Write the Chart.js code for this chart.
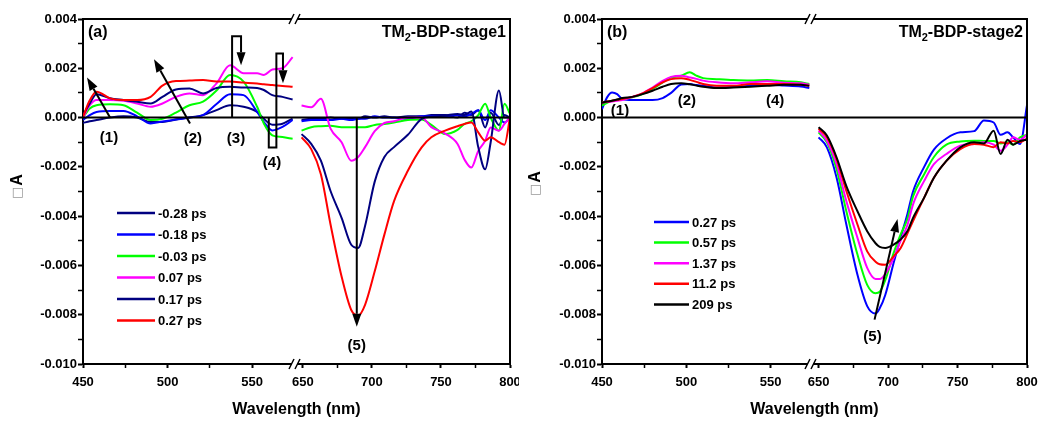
<!DOCTYPE html>
<html>
<head>
<meta charset="utf-8">
<script src="https://cdn.jsdelivr.net/npm/chart.js@4.4.1/dist/chart.umd.min.js"></script>
<style>
  html, body { margin: 0; padding: 0; background: #fff; }
  #wrap { position: relative; width: 1039px; height: 421px; }
  canvas { position: absolute; top: 0; }
  #chartA { left: 0; }
  #chartB { left: 519px; }
</style>
</head>
<body>
<div id="wrap">
  <canvas id="chartA" width="519" height="421"></canvas>
  <canvas id="chartB" width="520" height="421"></canvas>
</div>
<script>
'use strict';

// wavelengths (nm), one array per side of the axis break
const wlA1 = [450, 454, 458, 466, 474, 482, 490, 497, 505, 513, 521, 529, 537, 545, 553, 557, 562, 568, 574];
const wlA2 = [649, 656, 663, 670, 678, 685, 690, 695, 702, 709, 716, 726, 736, 743, 753, 762, 767, 772, 777, 782, 786, 792, 796, 800];
const wlB1 = [450, 453, 456, 459, 462, 468, 474, 480, 486, 491, 497, 502, 506, 510, 518, 528, 538, 548, 558, 568, 573];
const wlB2 = [650, 656, 663, 670, 678, 685, 691, 694, 698, 704, 709, 714, 718, 726, 733, 742, 752, 762, 769, 776, 781, 786, 790, 795, 800];

// stage 1, delta A in units of 0.001
const a1_m028 = [-0.22, -0.15, -0.1, 0, 0.05, 0, -0.18, -0.18, -0.08, 0, 0.1, 0.3, 0.5, 0.44, 0.23, -0.05, -0.29, -0.25, -0.04];
const a1_m018 = [-0.1, 0.1, 0.23, 0.27, 0.27, 0.05, -0.24, -0.16, -0.08, 0, 0.1, 0.55, 0.95, 0.91, 0.23, -0.18, -0.52, -0.38, -0.1];
const a1_m003 = [0, 0.37, 0.5, 0.54, 0.5, 0.2, -0.1, -0.05, 0.2, 0.5, 0.65, 1.1, 1.73, 1.46, 0.44, -0.24, -0.72, -0.79, -0.86];
const a1_p007 = [0, 0.5, 0.71, 0.71, 0.68, 0.57, 0.44, 0.57, 0.84, 0.98, 0.91, 1.39, 2.12, 1.8, 1.8, 1.73, 1.95, 2.0, 2.45];
const a1_p017 = [0.1, 0.57, 0.95, 0.78, 0.71, 0.64, 0.57, 0.84, 1.14, 1.18, 0.98, 1.2, 1.25, 1.22, 1.2, 1.12, 0.91, 0.84, 0.73];
const a1_p027 = [0.03, 0.7, 1.05, 0.78, 0.71, 0.71, 0.84, 1.3, 1.48, 1.5, 1.52, 1.46, 1.46, 1.42, 1.38, 1.35, 1.32, 1.28, 1.25];

const a2_m028 = [-0.1, -0.05, -0.05, 0, -0.05, -0.05, -0.05, 0.05, 0, 0.05, 0, 0.05, 0.05, 0.1, 0.1, 0, 0.2, 0.1, 0.3, -0.4, 0.2, -0.3, 0.1, 0];
const a2_m018 = [-0.15, -0.1, -0.1, -0.1, -0.05, -0.1, -0.05, -0.05, 0.05, 0, 0, -0.05, 0.05, 0.05, 0.05, 0.1, 0.05, 0.15, 0.3, -0.1, 0.3, 0, -0.2, 0];
const a2_m003 = [-0.53, -0.39, -0.35, -0.33, -0.39, -0.39, -0.39, -0.39, -0.3, -0.26, -0.2, -0.1, -0.08, -0.3, -0.67, -0.5, -0.26, -0.15, 0.1, 0.56, 0, -0.53, 0.56, 0.15];
const a2_p007 = [0.49, 0.42, 0.76, -0.45, -1.0, -1.75, -1.6, -1.2, -0.55, -0.22, -0.15, 0, 0, -0.39, -0.65, -1.07, -1.7, -2.03, -1.35, -0.94, -0.4, -0.53, -0.26, 0];
const a2_p017 = [-0.67, -1.07, -1.75, -2.98, -4.07, -5.16, -5.29, -4.4, -2.6, -1.6, -1.2, -0.7, -0.05, 0.03, 0.08, 0.15, 0.1, 0.25, -1.2, -2.1, -1.0, 1.1, 0, 0];
const a2_p027 = [-0.8, -1.28, -2.3, -4.34, -6.45, -7.81, -8.04, -7.6, -6.24, -4.75, -3.39, -2.16, -1.21, -0.8, -0.53, -0.35, -0.26, -0.2, -0.6, -0.94, -0.8, -1.0, -1.1, 0];

// stage 2
const b1_027 = [0.34, 0.82, 1.02, 0.95, 0.75, 0.71, 0.71, 0.71, 0.79, 1.0, 1.34, 1.36, 1.32, 1.29, 1.22, 1.24, 1.29, 1.33, 1.3, 1.26, 1.2];
const b1_057 = [0.48, 0.6, 0.68, 0.72, 0.75, 0.82, 0.95, 1.16, 1.43, 1.63, 1.7, 1.84, 1.7, 1.6, 1.56, 1.52, 1.5, 1.52, 1.47, 1.43, 1.36];
const b1_137 = [0.61, 0.63, 0.65, 0.68, 0.71, 0.84, 0.98, 1.22, 1.49, 1.65, 1.7, 1.63, 1.57, 1.5, 1.43, 1.39, 1.43, 1.47, 1.41, 1.39, 1.33];
const b1_112 = [0.61, 0.65, 0.68, 0.72, 0.75, 0.84, 0.98, 1.19, 1.43, 1.56, 1.6, 1.53, 1.45, 1.36, 1.29, 1.29, 1.36, 1.36, 1.36, 1.33, 1.29];
const b1_209 = [0.61, 0.65, 0.68, 0.73, 0.79, 0.84, 0.95, 1.09, 1.25, 1.36, 1.39, 1.35, 1.3, 1.25, 1.2, 1.22, 1.25, 1.29, 1.33, 1.33, 1.29];

const b2_027 = [-0.8, -1.21, -2.44, -4.34, -6.38, -7.65, -7.95, -7.74, -7.2, -5.9, -4.88, -3.9, -3.0, -2.0, -1.3, -0.85, -0.6, -0.55, -0.12, -0.2, -0.7, -0.6, -0.8, -1.07, 0.5];
const b2_057 = [-0.6, -1.0, -2.1, -3.8, -5.56, -6.79, -7.13, -7.07, -6.6, -5.5, -4.75, -4.1, -3.2, -2.3, -1.6, -1.1, -0.97, -0.94, -0.95, -0.95, -1.05, -1.0, -1.1, -0.8, -0.7];
const b2_137 = [-0.53, -0.94, -1.89, -3.39, -4.88, -6.1, -6.55, -6.55, -6.35, -5.7, -5.0, -4.35, -3.52, -2.57, -1.89, -1.48, -1.14, -1.07, -1.0, -1.1, -1.35, -1.1, -0.8, -0.9, -0.7];
const b2_112 = [-0.46, -0.8, -1.69, -2.98, -4.34, -5.43, -5.85, -5.95, -5.97, -5.63, -5.3, -4.7, -4.2, -3.25, -2.44, -1.76, -1.28, -1.07, -1.1, -1.2, -1.0, -1.05, -0.95, -1.0, -0.85];
const b2_209 = [-0.39, -0.73, -1.62, -2.78, -3.8, -4.61, -5.1, -5.25, -5.29, -5.16, -4.95, -4.6, -4.07, -3.25, -2.44, -1.76, -1.21, -1.0, -1.05, -0.53, -1.48, -0.9, -1.1, -0.95, -0.9];

const stage1Labels = ['-0.28 ps', '-0.18 ps', '-0.03 ps', '0.07 ps', '0.17 ps', '0.27 ps'];
const stage1Colors = ['#000080', '#0000ff', '#00ff00', '#ff00ff', '#000080', '#ff0000'];
const stage2Labels = ['0.27 ps', '0.57 ps', '1.37 ps', '11.2 ps', '209 ps'];
const stage2Colors = ['#0000ff', '#00ff00', '#ff00ff', '#ff0000', '#000000'];

const yTicks = [-0.010, -0.009, -0.008, -0.007, -0.006, -0.005, -0.004, -0.003, -0.002, -0.001, 0, 0.001, 0.002, 0.003, 0.004];
const xTicksVis = [450, 475, 500, 525, 550];
const xTicksNir = [650, 675, 700, 725, 750, 775, 800];

const fontFamily = 'Arial, "Liberation Sans", sans-serif';
const boldFont = (size) => `bold ${size}px ${fontFamily}`;

let drawArrow = function (ctx, pts, head) {
    let n = pts.length;
    let [x1, y1] = pts[n - 1];
    let [x0, y0] = pts[n - 2];
    let len = Math.hypot(x1 - x0, y1 - y0);
    let ux = (x1 - x0) / len, uy = (y1 - y0) / len;
    let hl = head ? 13 : 0, hw = 4.5;
    ctx.beginPath();
    ctx.moveTo(pts[0][0], pts[0][1]);
    for (let i = 1; i < n - 1; i++) ctx.lineTo(pts[i][0], pts[i][1]);
    ctx.lineTo(x1 - ux * hl, y1 - uy * hl);
    ctx.stroke();
    if (!head) return;
    ctx.beginPath();
    ctx.moveTo(x1, y1);
    ctx.lineTo(x1 - ux * hl - uy * hw, y1 - uy * hl + ux * hw);
    ctx.lineTo(x1 - ux * hl + uy * hw, y1 - uy * hl - ux * hw);
    ctx.closePath();
    ctx.fill();
};

// frame, zero line, axis break, arrows, legend and titles
const panelDecor = {
    id: 'panelDecor',
    afterDatasetsDraw(chart, args, o) {
        const ctx = chart.ctx;
        const area = chart.chartArea;
        const yScale = chart.scales.y;
        const zeroY = yScale.getPixelForValue(0);
        const bx = chart.scales.xL.right;
        const pt = (xs, wl, v) => [chart.scales[xs].getPixelForValue(wl), yScale.getPixelForValue(v / 1000)];

        ctx.save();
        ctx.strokeStyle = '#000';
        ctx.fillStyle = '#000';
        ctx.lineWidth = 2;

        ctx.beginPath();
        ctx.moveTo(area.left, zeroY);
        ctx.lineTo(area.right, zeroY);
        ctx.moveTo(area.left - 1, area.top);
        ctx.lineTo(area.right, area.top);
        ctx.lineTo(area.right, area.bottom + 1);
        ctx.stroke();

        [area.top, area.bottom].forEach(yy => {
            ctx.fillStyle = '#fff';
            ctx.fillRect(bx - 5, yy - 2, 5, 4);
            ctx.beginPath();
            ctx.lineWidth = 1.5;
            ctx.moveTo(bx - 8, yy + 5);
            ctx.lineTo(bx - 3, yy - 5);
            ctx.moveTo(bx - 2, yy + 5);
            ctx.lineTo(bx + 3, yy - 5);
            ctx.stroke();
        });

        ctx.fillStyle = '#000';
        ctx.lineWidth = 2;
        o.arrows.forEach(a => {
            drawArrow(ctx, a.pts.map(p => pt(a.xs, p[0], p[1])), true);
        });

        ctx.font = boldFont(15);
        ctx.textAlign = 'center';
        ctx.textBaseline = 'middle';
        o.marks.forEach(m => {
            let [x, y] = pt(m.xs, m.wl, m.v);
            ctx.fillText(m.text, x, y);
        });

        // legend
        let lg = o.legend;
        ctx.font = boldFont(13);
        ctx.textAlign = 'left';
        ctx.lineWidth = 2.5;
        chart.data.datasets.filter(d => d.xAxisID === 'xL').forEach((d, i) => {
            let yy = lg.y0 + i * lg.dy;
            ctx.strokeStyle = d.borderColor;
            ctx.beginPath();
            ctx.moveTo(lg.x1, yy);
            ctx.lineTo(lg.x2, yy);
            ctx.stroke();
            ctx.fillText(d.label, lg.tx, yy + 1);
        });

        // panel tag and title
        ctx.font = boldFont(16);
        ctx.fillText(o.tag, area.left + 5, area.top + 14);
        let part1 = 'TM', part2 = '2', part3 = '-BDP-' + o.stage;
        let w1 = ctx.measureText(part1).width;
        let w3 = ctx.measureText(part3).width;
        ctx.font = boldFont(11);
        let w2 = ctx.measureText(part2).width;
        let tx = area.right - 4 - (w1 + w2 + w3);
        ctx.font = boldFont(16);
        ctx.fillText(part1, tx, area.top + 14);
        ctx.fillText(part3, tx + w1 + w2, area.top + 14);
        ctx.font = boldFont(11);
        ctx.fillText(part2, tx + w1, area.top + 19);

        // axis titles
        ctx.font = boldFont(16);
        ctx.textAlign = 'center';
        ctx.fillText('Wavelength (nm)', (area.left + area.right) / 2, 410);

        ctx.translate(o.yTitle[0], o.yTitle[1]);
        ctx.rotate(-Math.PI / 2);
        ctx.textAlign = 'left';
        ctx.font = `13px "DejaVu Sans", sans-serif`;
        ctx.fillStyle = '#999';
        ctx.fillText('\u25A1', 0, 0);
        let wb = ctx.measureText('\u25A1').width;
        ctx.font = boldFont(16);
        ctx.fillStyle = '#000';
        ctx.fillText('A', wb + 1, 0);
        ctx.restore();
    }
};

let buildSets = function (labels, colors, wl1, left, wl2, right) {
    let sets = [];
    let add = function (wl, vals, axis) {
        for (let i = 0; i < labels.length; i++) {
            sets.push({
                label: labels[i],
                data: wl.map((w, j) => ({ x: w, y: vals[i][j] / 1000 })),
                xAxisID: axis,
                borderColor: colors[i],
                backgroundColor: colors[i],
                borderWidth: 2,
                pointRadius: 0,
                cubicInterpolationMode: 'monotone',
                order: labels.length - i
            });
        }
    };
    add(wl1, left, 'xL');
    add(wl2, right, 'xR');
    return sets;
};

let tickFont = { family: fontFamily, size: 13, weight: 'bold' };

let xAxis = function (min, max, weight, ticks) {
    return {
        type: 'linear',
        position: 'bottom',
        stack: 'wl',
        stackWeight: weight,
        min: min,
        max: max,
        afterBuildTicks: s => { s.ticks = ticks.map(v => ({ value: v })); },
        afterFit: s => { s.height = 24; s.paddingLeft = 0; s.paddingRight = 0; },
        ticks: {
            autoSkip: false,
            maxRotation: 0,
            padding: 7,
            color: '#000',
            font: tickFont,
            callback: v => (v % 50 === 0 ? String(v) : '')
        },
        grid: {
            drawOnChartArea: false,
            tickLength: 4,
            tickColor: '#000',
            tickWidth: c => (c.tick && c.tick.value % 50 === 0 ? 2 : 1.5)
        },
        border: { color: '#000', width: 2 }
    };
};

let makeChart = function (id, sets, padRight, xl, xr, decor) {
    return new Chart(document.getElementById(id), {
        type: 'line',
        data: { datasets: sets },
        plugins: [panelDecor],
        options: {
            responsive: false,
            animation: false,
            devicePixelRatio: 1,
            layout: { padding: { left: 33, right: padRight, top: 19, bottom: 33 } },
            plugins: {
                legend: { display: false },
                tooltip: { enabled: false },
                panelDecor: decor
            },
            scales: {
                xL: xl,
                xR: xr,
                y: {
                    type: 'linear',
                    min: -0.010,
                    max: 0.004,
                    afterBuildTicks: s => { s.ticks = yTicks.map(v => ({ value: v })); },
                    afterFit: s => { s.width = 50; s.paddingTop = 0; s.paddingBottom = 0; },
                    ticks: {
                        autoSkip: false,
                        padding: 1,
                        color: '#000',
                        font: tickFont,
                        callback: v => (Math.round(v * 1000) % 2 === 0 ? v.toFixed(3) : '')
                    },
                    grid: {
                        drawOnChartArea: false,
                        tickLength: 5,
                        tickColor: '#000',
                        tickWidth: c => (c.tick && Math.round(c.tick.value * 1000) % 2 === 0 ? 2 : 1.5)
                    },
                    border: { color: '#000', width: 2 }
                }
            }
        }
    });
};

makeChart('chartA',
    buildSets(stage1Labels, stage1Colors,
        wlA1, [a1_m028, a1_m018, a1_m003, a1_p007, a1_p017, a1_p027],
        wlA2, [a2_m028, a2_m018, a2_m003, a2_p007, a2_p017, a2_p027]),
    9,
    xAxis(450, 576.6, 214, xTicksVis),
    xAxis(645.7, 800, 213, xTicksNir),
    {
        tag: '(a)',
        stage: 'stage1',
        yTitle: [18, 199],
        legend: { x1: 117, x2: 155, tx: 158, y0: 213, dy: 21.5 },
        arrows: [
            { xs: 'xL', pts: [[466, 0], [452.4, 1.63]] },
            { xs: 'xL', pts: [[513.3, -0.24], [492, 2.37]] },
            { xs: 'xL', pts: [[538.2, 0], [538.2, 3.3], [543.5, 3.3], [543.5, 2.12]] },
            { xs: 'xL', pts: [[559.9, 0], [559.9, -1.21], [564.4, -1.21], [564.4, 2.6], [568.3, 2.6], [568.3, 1.39]] },
            { xs: 'xR', pts: [[689, 0], [689, -8.49]] }
        ],
        marks: [
            { xs: 'xL', wl: 465.4, v: -0.82, text: '(1)' },
            { xs: 'xL', wl: 515, v: -0.86, text: '(2)' },
            { xs: 'xL', wl: 540.5, v: -0.86, text: '(3)' },
            { xs: 'xL', wl: 561.8, v: -1.84, text: '(4)' },
            { xs: 'xR', wl: 689, v: -9.27, text: '(5)' }
        ]
    });

makeChart('chartB',
    buildSets(stage2Labels, stage2Colors,
        wlB1, [b1_027, b1_057, b1_137, b1_112, b1_209],
        wlB2, [b2_027, b2_057, b2_137, b2_112, b2_209]),
    12,
    xAxis(450, 575.2, 211, xTicksVis),
    xAxis(646, 800, 214, xTicksNir),
    {
        tag: '(b)',
        stage: 'stage2',
        yTitle: [17, 196],
        legend: { x1: 135, x2: 170, tx: 173, y0: 222, dy: 20.6 },
        arrows: [
            { xs: 'xR', pts: [[690.3, -8.2], [706.8, -4.12]] }
        ],
        marks: [
            { xs: 'xL', wl: 460.7, v: 0.29, text: '(1)' },
            { xs: 'xL', wl: 500.4, v: 0.69, text: '(2)' },
            { xs: 'xL', wl: 552.7, v: 0.69, text: '(4)' },
            { xs: 'xR', wl: 688.8, v: -8.9, text: '(5)' }
        ]
    });
</script>
</body>
</html>
